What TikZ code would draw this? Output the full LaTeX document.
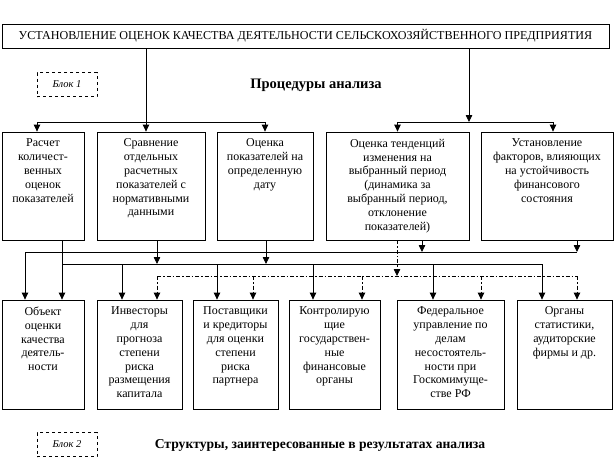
\documentclass[tikz,border=0pt]{standalone}
\usepackage{fontspec}
\setmainfont{Liberation Serif}
\usetikzlibrary{arrows.meta}
\newcommand\bxt[3]{\parbox[c][#2pt][t]{#1pt}{\vspace*{7pt}\centering #3\par}}
\begin{document}
\begin{tikzpicture}[x=1pt,y=-1pt,
  bx/.style={draw, line width=0.8pt, inner sep=0pt, font=\fontsize{12}{13.8}\selectfont},
  ln/.style={line width=0.8pt},
  arr/.style={ln, -{Triangle[width=6.5pt,length=7pt]}},
  dd/.style={dash pattern=on 4pt off 2pt on 1.5pt off 2pt},
  blk/.style={draw, dashed, line width=0.6pt, minimum width=60pt, minimum height=24pt, inner sep=0pt, font=\itshape\fontsize{10.5}{12}\selectfont}]
\useasboundingbox (0,0) rectangle (614,469);

% title and headings
\node[bx, minimum width=607pt, minimum height=24pt, font=\fontsize{12.1}{14}\selectfont] (title) at (305.5,36) {УСТАНОВЛЕНИЕ ОЦЕНОК КАЧЕСТВА ДЕЯТЕЛЬНОСТИ СЕЛЬСКОХОЗЯЙСТВЕННОГО ПРЕДПРИЯТИЯ};
\node[blk] (blk1) at (67,84.5) {Блок 1};
\node[font=\bfseries\fontsize{14.5}{17}\selectfont] (proc) at (316,85) {Процедуры анализа};
\node[blk] (blk2) at (67,444.5) {Блок 2};
\node[font=\bfseries\fontsize{13.6}{16}\selectfont] (struct) at (320,445) {Структуры, заинтересованные в результатах анализа};

% top boxes
\node[bx] (t1) at (43,186) {\bxt{82}{108}{Расчет\\количест-\\венных\\оценок\\показателей}};
\node[bx] (t2) at (151,186) {\bxt{108}{108}{Сравнение\\отдельных\\расчетных\\показателей с\\нормативными\\данными}};
\node[bx] (t3) at (265,186) {\bxt{96}{108}{Оценка\\показателей на\\определенную\\дату}};
\node[bx] (t4) at (397.5,186) {\bxt{143}{108}{Оценка тенденций\\изменения на\\выбранный период\\(динамика за\\выбранный период,\\отклонение\\показателей)}};
\node[bx] (t5) at (547,186) {\bxt{132}{108}{Установление\\факторов, влияющих\\на устойчивость\\финансового\\состояния}};

% bottom boxes
\node[bx] (b1) at (43,354.5) {\bxt{82}{109}{Объект\\оценки\\качества\\деятель-\\ности}};
\node[bx] (b2) at (139.5,354.5) {\bxt{85}{109}{Инвесторы\\для\\прогноза\\степени\\риска\\размещения\\капитала}};
\node[bx] (b3) at (235.5,354.5) {\bxt{85}{109}{Поставщики\\и кредиторы\\для оценки\\степени\\риска\\партнера}};
\node[bx] (b4) at (334.5,354.5) {\bxt{91}{109}{Контролирую\\щие\\государствен-\\ные\\финансовые\\органы}};
\node[bx] (b5) at (450.5,354.5) {\bxt{107}{109}{Федеральное\\управление по\\делам\\несостоятель-\\ности при\\Госкомимуще-\\стве РФ}};
\node[bx] (b6) at (564.5,354.5) {\bxt{95}{109}{Органы\\статистики,\\аудиторские\\фирмы и др.}};

% upper connectors
\coordinate (j1) at (146,122);
\coordinate (j2) at (469,122);
\draw[ln] (title.south -| j1) -- (j1);
\draw[arr] (j1) -| ([xshift=-6pt]t1.north);
\draw[arr] (j1) -- (j1 |- t2.north);
\draw[arr] (j1) -| (t3.north);
\draw[arr] (title.south -| j2) -- (j2);
\draw[arr] (j2) -| (t4.north);
\draw[arr] (j2) -| ([xshift=6pt]t5.north);

% line A
\coordinate (a0) at (25,252);
\coordinate (a4) at (422,252);
\coordinate (a6) at (577,252);
\draw[arr] (t4.south -| a4) -- (a4);
\draw[arr] (t5.south -| a6) -- (a6);
\draw[ln] (a6) -- (a0);
\draw[arr] (a0) -- (a0 |- b1.north);

% line B
\coordinate (kB0) at (62,264);
\coordinate (kB2) at (122,264);
\coordinate (kT2) at (157,264);
\coordinate (kB3) at (217,264);
\coordinate (kT3) at (266,264);
\coordinate (kB4) at (313,264);
\coordinate (kB5) at (433,264);
\coordinate (kB6) at (542,264);
\draw[arr] (t1.south -| kB0) -- (kB0 |- b1.north);
\draw[ln] (kB0) -- (kB6);
\draw[arr] (t2.south -| kT2) -- (kT2);
\draw[arr] (t3.south -| kT3) -- (kT3);
\draw[arr] (kB2) -- (kB2 |- b2.north);
\draw[arr] (kB3) -- (kB3 |- b3.north);
\draw[arr] (kB4) -- (kB4 |- b4.north);
\draw[arr] (kB5) -- (kB5 |- b5.north);
\draw[arr] (kB6) -- (kB6 |- b6.north);

% line C (dash-dot)
\coordinate (kC0) at (157,276);
\coordinate (kC3) at (253,276);
\coordinate (kC4) at (362,276);
\coordinate (kCT) at (397,276);
\coordinate (kC5) at (481,276);
\coordinate (kC6) at (577,276);
\draw[ln,dd] (kC0) -- (kC6);
\draw[arr,dd] (t4.south -| kCT) -- (kCT);
\draw[arr,dd] (kC0) -- (kC0 |- b2.north);
\draw[arr,dd] (kC3) -- (kC3 |- b3.north);
\draw[arr,dd] (kC4) -- (kC4 |- b4.north);
\draw[arr,dd] (kC5) -- (kC5 |- b5.north);
\draw[arr,dd] (kC6) -- (kC6 |- b6.north);
\end{tikzpicture}
\end{document}
